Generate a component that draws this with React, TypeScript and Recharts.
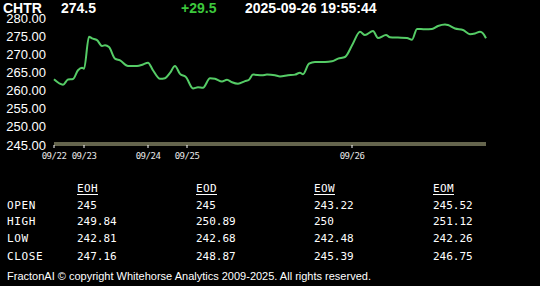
import React from 'react';
import { LineChart, Line, XAxis, YAxis, ReferenceLine } from 'recharts';

const symbol = 'CHTR';
const lastPrice = '274.5';
const change = '+29.5';
const timestamp = '2025-09-26 19:55:44';

// session step (time index) and price
const steps = [0, 9, 14, 19, 24, 28, 30, 35, 38, 43, 48, 51, 55, 61, 66, 74, 83, 89, 94, 99, 106, 111, 116, 121, 126, 132, 139, 144, 149, 156, 161, 168, 173, 178, 184, 191, 195, 199, 208, 213, 221, 226, 234, 241, 246, 249, 255, 261, 271, 278, 284, 291, 299, 306, 311, 319, 324, 332, 336, 344, 353, 358, 363, 371, 378, 384, 391, 394, 401, 409, 416, 421, 426, 429, 432];
const prices = [263.1, 261.6, 263.05, 263.2, 265.6, 266.3, 266.0, 274.8, 274.4, 273.9, 272.3, 272.5, 272.0, 268.8, 268.3, 266.75, 266.75, 267.2, 267.7, 265.6, 263.25, 263.4, 264.9, 266.75, 264.6, 263.7, 260.6, 260.9, 260.8, 263.4, 263.25, 262.5, 263.0, 262.3, 261.9, 262.6, 263.0, 264.4, 264.2, 264.4, 264.2, 263.9, 264.2, 264.4, 264.9, 264.5, 267.4, 267.9, 267.9, 268.05, 268.8, 269.25, 273.0, 276.2, 275.3, 276.4, 274.5, 275.3, 274.7, 274.6, 274.5, 274.0, 277.0, 276.9, 277.0, 277.8, 278.2, 278.05, 277.1, 276.7, 275.55, 275.75, 276.2, 275.75, 274.4];

const dayTicks = [0, 30, 94, 133, 298];
const dayLabels = ['09/22', '09/23', '09/24', '09/25', '09/26'];
const priceTicks = [245, 250, 255, 260, 265, 270, 275, 280];
const baseLineLevel = 245.55;

const tableHeaders = ['EOH', 'EOD', 'EOW', 'EOM'];
const rowLabels = ['OPEN', 'HIGH', 'LOW', 'CLOSE'];
const eohValues = ['245', '249.84', '242.81', '247.16'];
const eodValues = ['245', '250.89', '242.68', '248.87'];
const eowValues = ['243.22', '250', '242.48', '245.39'];
const eomValues = ['245.52', '251.12', '242.26', '246.75'];
const footer = 'FractonAI \u00A9 copyright Whitehorse Analytics 2009-2025. All rights reserved.';

const data = steps.map((t, i) => ({ t, price: prices[i] }));
const tableColumns = [eohValues, eodValues, eowValues, eomValues];

const colX = [77, 196, 314, 433];
const rowBase = [208.5, 225, 242.3, 259.6];
const mono = '"DejaVu Sans Mono", "Liberation Mono", monospace';
const sans = '"Liberation Sans", Arial, sans-serif';

export default function App() {
  return (
    <div style={{ position: 'fixed', left: 0, top: 0, width: 540, height: 286, background: '#000', overflow: 'hidden' }}>
      <div style={{ position: 'absolute', left: 0, top: 0 }}>
        <LineChart width={540} height={171} data={data} margin={{ top: 18, right: 54, left: 0, bottom: 0 }}>
          <XAxis
            dataKey="t"
            type="number"
            domain={[0, 432]}
            ticks={dayTicks}
            tickFormatter={(v: number) => dayLabels[dayTicks.indexOf(v)] ?? ''}
            height={26}
            axisLine={{ stroke: '#c9c99a', strokeWidth: 1 }}
            tickLine={{ stroke: '#ffffff' }}
            tickSize={3}
            tickMargin={5}
            tick={{ fill: '#e8e8e8', fontSize: 9, fontFamily: mono, letterSpacing: -0.5 }}
          />
          <YAxis
            domain={[245, 280]}
            ticks={priceTicks}
            tickFormatter={(v: number) => v.toFixed(2)}
            width={54}
            axisLine={false}
            tickLine={false}
            interval={0}
            tick={{ fill: '#ffffff', fontSize: 13, fontFamily: sans }}
          />
          <ReferenceLine y={baseLineLevel} stroke="#c9c99a" strokeWidth={1} />
          <Line
            type="monotone"
            dataKey="price"
            stroke="#55cc66"
            strokeWidth={2}
            dot={false}
            isAnimationActive={false}
          />
        </LineChart>
      </div>
      <svg width={540} height={286} style={{ position: 'absolute', left: 0, top: 0, pointerEvents: 'none' }}>
        <g fontFamily={sans} fontWeight="bold" fontSize={14}>
          <text x={3} y={12.5} fill="#fff">{symbol}</text>
          <text x={61} y={12.5} fill="#fff">{lastPrice}</text>
          <text x={181} y={12.5} fill="#3cc83c">{change}</text>
          <text x={245} y={12.5} fill="#fff">{timestamp}</text>
        </g>
        <g fontFamily={mono} fill="#fff">
          {tableHeaders.map((h, i) => (
            <g key={h}>
              <text x={colX[i]} y={192} fontSize={11} letterSpacing={0.4}>{h}</text>
              <line x1={colX[i]} x2={colX[i] + 21} y1={194.5} y2={194.5} stroke="#fff" strokeWidth={1} />
            </g>
          ))}
          {rowLabels.map((r, j) => (
            <text key={r} x={7} y={rowBase[j]} fontSize={11} letterSpacing={0.6}>{r}</text>
          ))}
          {tableColumns.map((col, i) =>
            col.map((v, j) => (
              <text key={`${i}-${j}`} x={colX[i]} y={rowBase[j]} fontSize={11}>{v}</text>
            ))
          )}
        </g>
        <text x={7} y={280} fill="#fff" fontFamily={sans} fontSize={11}>{footer}</text>
      </svg>
    </div>
  );
}
